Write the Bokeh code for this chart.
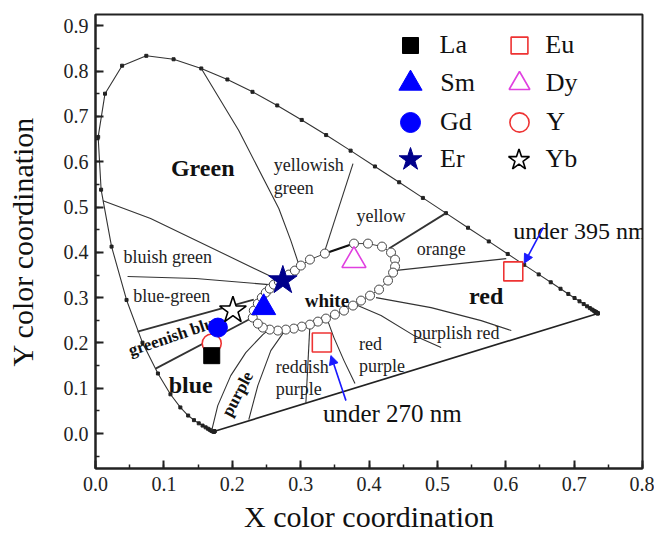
from bokeh.plotting import figure
from bokeh.models import (ColumnDataSource, Legend, LegendItem, Label, Arrow, NormalHead,
                          SingleIntervalTicker, Range1d, PrintfTickFormatter)
from bokeh.core.properties import value
from bokeh.embed import file_html
from bokeh.resources import INLINE

# ---------------- data ----------------
# CIE 1931 spectral locus, 380-700 nm every 5 nm
cie_x = [0.1741, 0.1740, 0.1738, 0.1736, 0.1733, 0.1730, 0.1726, 0.1721, 0.1714, 0.1703,
         0.1689, 0.1669, 0.1644, 0.1611, 0.1566, 0.1510, 0.1440, 0.1355, 0.1241, 0.1096,
         0.0913, 0.0687, 0.0454, 0.0235, 0.0082, 0.0039, 0.0139, 0.0389, 0.0743, 0.1142,
         0.1547, 0.1929, 0.2296, 0.2658, 0.3016, 0.3373, 0.3731, 0.4087, 0.4441, 0.4788,
         0.5125, 0.5448, 0.5752, 0.6029, 0.6270, 0.6482, 0.6658, 0.6801, 0.6915, 0.7006,
         0.7079, 0.7140, 0.7190, 0.7230, 0.7260, 0.7283, 0.7300, 0.7311, 0.7320, 0.7327,
         0.7334, 0.7340, 0.7344, 0.7346, 0.7347]
cie_y = [0.0050, 0.0050, 0.0049, 0.0049, 0.0048, 0.0048, 0.0048, 0.0048, 0.0051, 0.0058,
         0.0069, 0.0086, 0.0109, 0.0138, 0.0177, 0.0227, 0.0297, 0.0399, 0.0578, 0.0868,
         0.1327, 0.2007, 0.2950, 0.4127, 0.5384, 0.6548, 0.7502, 0.8120, 0.8338, 0.8262,
         0.8059, 0.7816, 0.7543, 0.7243, 0.6923, 0.6589, 0.6245, 0.5896, 0.5547, 0.5202,
         0.4866, 0.4544, 0.4242, 0.3965, 0.3725, 0.3514, 0.3340, 0.3197, 0.3083, 0.2993,
         0.2920, 0.2859, 0.2809, 0.2770, 0.2740, 0.2717, 0.2700, 0.2689, 0.2680, 0.2673,
         0.2666, 0.2660, 0.2656, 0.2654, 0.2653]

# white region outline (open circles)
white_x = [0.2300, 0.2315, 0.2374, 0.2432, 0.2491, 0.2549, 0.2608, 0.2681, 0.2755, 0.2828,
           0.2916, 0.3004, 0.3136, 0.3355, 0.3780, 0.3985, 0.4190, 0.4322, 0.4381, 0.4381,
           0.4352, 0.4278, 0.4147, 0.4015, 0.3883, 0.3766, 0.3634, 0.3502, 0.3370, 0.3253,
           0.3136, 0.3018, 0.2901, 0.2784, 0.2667, 0.2549, 0.2447, 0.2374, 0.2300]
white_y = [0.2561, 0.2715, 0.2870, 0.3002, 0.3113, 0.3201, 0.3289, 0.3355, 0.3422, 0.3510,
           0.3598, 0.3709, 0.3841, 0.3974, 0.4194, 0.4194, 0.4128, 0.3996, 0.3841, 0.3687,
           0.3554, 0.3377, 0.3179, 0.3046, 0.2936, 0.2826, 0.2715, 0.2627, 0.2539, 0.2472,
           0.2406, 0.2362, 0.2318, 0.2296, 0.2274, 0.2296, 0.2340, 0.2428, 0.2561]
thick_x = [0.3355, 0.3780]
thick_y = [0.3974, 0.4194]

# colour-name boundary lines
bound_xs = [
    [0.1547, 0.2095, 0.2681, 0.2857, 0.2974],          # green / yellowish green
    [0.0110, 0.0806, 0.2660],                          # green / bluish green
    [0.0469, 0.1465, 0.2535],                          # bluish green / blue-green
    [0.0615, 0.2315],                                  # blue-green / greenish blue
    [0.0879, 0.2300],                                  # greenish blue / blue
    [0.1700, 0.1788, 0.1978, 0.2198, 0.2447, 0.2535],  # blue / purple
    [0.2242, 0.2374, 0.2564, 0.2769],                  # purple / reddish purple
    [0.3077, 0.3136],                                  # reddish purple / red purple
    [0.3385, 0.3487, 0.3634, 0.3795],                  # red purple / purplish red
    [0.3766, 0.4176, 0.4659, 0.5055],                  # purplish red (inner)
    [0.4103, 0.4908, 0.5641, 0.6081],                  # purplish red / red
    [0.4366, 0.6007],                                  # red / orange
    [0.4293, 0.5125],                                  # orange / yellow
    [0.3341, 0.3766],                                  # yellow / yellowish green
]
bound_ys = [
    [0.8059, 0.6689, 0.4967, 0.4260, 0.3731],
    [0.5140, 0.4746, 0.3400],
    [0.3466, 0.3422, 0.3289],
    [0.2252, 0.2958],
    [0.1435, 0.2561],
    [0.0070, 0.0618, 0.1280, 0.1788, 0.2185, 0.2296],
    [0.0309, 0.1060, 0.1832, 0.2274],
    [0.0680, 0.2406],
    [0.2539, 0.2119, 0.1611, 0.1104],
    [0.2870, 0.2605, 0.2163, 0.1898],
    [0.3002, 0.2781, 0.2494, 0.2274],
    [0.3598, 0.3863],
    [0.4084, 0.4866],
    [0.3974, 0.5960],
]
bound_w = [1.1, 1.1, 1.1, 1.8, 1.8, 1.1, 1.1, 1.1, 1.1, 1.1, 1.1, 1.3, 1.8, 1.1]

# samples (CIE x, y)
la_x, la_y = [0.170], [0.172]
sm_x, sm_y = [0.246], [0.278]
gd_x, gd_y = [0.179], [0.234]
er_x, er_y = [0.274], [0.338]
eu_x, eu_y = [0.611, 0.331], [0.358, 0.201]
dy_x, dy_y = [0.378], [0.382]
yy_x, yy_y = [0.170], [0.199]
yb_x, yb_y = [0.201], [0.272]

series_names = ["La", "Sm", "Gd", "Er", "Eu", "Dy", "Y", "Yb"]

# region names
name_txt = ["yellowish", "green", "yellow", "orange", "bluish green", "blue-green",
            "reddish", "purple", "red", "purple", "purplish red"]
name_x = [0.2608, 0.2608, 0.4176, 0.5055, 0.1055, 0.1114, 0.2637, 0.2637, 0.3853, 0.3853, 0.5275]
name_y = [0.5938, 0.5430, 0.4812, 0.4084, 0.3907, 0.3046, 0.1479, 0.0993, 0.1987, 0.1501, 0.2230]
name_align = ["left", "left", "center", "center", "center", "center",
              "left", "left", "left", "left", "center"]

big_txt = ["Green", "blue", "red"]
big_x = [0.1568, 0.1392, 0.5714]
big_y = [0.5872, 0.1082, 0.3046]

white_txt = ["white"]
white_lx, white_ly = [0.3385], [0.2936]

rot_txt = ["greenish blue", "purple"]
rot_x = [0.1158, 0.2076]
rot_y = [0.2163, 0.0876]
rot_angle = [0.325, 1.08]

FONT = "Liberation Serif"

# ---------------- figure ----------------
p = figure(width=654, height=536, x_range=Range1d(0, 0.8), y_range=Range1d(-0.077, 0.925),
           output_backend="svg", toolbar_location=None,
           min_border_left=95, min_border_right=12, min_border_top=14, min_border_bottom=68)
p.grid.visible = False
p.background_fill_color = "white"
p.border_fill_color = "white"
p.outline_line_color = "#222222"
p.outline_line_width = 2

for ax in (p.xaxis[0], p.yaxis[0]):
    ax.ticker = SingleIntervalTicker(interval=0.1, num_minor_ticks=2)
    ax.formatter = PrintfTickFormatter(format="%.1f")
    ax.major_tick_in = 8
    ax.major_tick_out = 0
    ax.minor_tick_in = 4
    ax.minor_tick_out = 0
    ax.major_tick_line_width = 2
    ax.minor_tick_line_width = 1.5
    ax.axis_line_width = 2
    ax.axis_line_color = "#222222"
    ax.major_tick_line_color = "#222222"
    ax.minor_tick_line_color = "#222222"
    ax.major_label_text_font = FONT
    ax.major_label_text_font_size = "20px"
    ax.major_label_text_color = "#222222"
    ax.axis_label_text_font = FONT
    ax.axis_label_text_font_size = "30px"
    ax.axis_label_text_font_style = "normal"
    ax.axis_label_text_color = "#111111"

p.xaxis.axis_label = "X color coordination"
p.yaxis.axis_label = "Y color coordination"
p.xaxis.major_label_standoff = 8
p.xaxis.axis_label_standoff = 6
p.yaxis.major_label_standoff = 7
p.yaxis.axis_label_standoff = 22

# spectral locus + purple line
p.line(cie_x, cie_y, line_color="#333333", line_width=1.1)
p.line([cie_x[0], cie_x[-1]], [cie_y[0], cie_y[-1]], line_color="#222222", line_width=1.6)
p.scatter(cie_x, cie_y, marker="square", size=3, color="#222222")

# boundaries
p.multi_line(xs="xs", ys="ys", line_width="w", line_color="#333333",
             source=ColumnDataSource(dict(xs=bound_xs, ys=bound_ys, w=bound_w)))

# white region
p.line(white_x, white_y, line_color="#444444", line_width=1)
p.line(thick_x, thick_y, line_color="#111111", line_width=2.2)
p.scatter(white_x[:-1], white_y[:-1], marker="circle", size=9, fill_color="white",
          line_color="#444444", line_width=1)

# texts
p.text(x="x", y="y", text="t", text_align="a", text_baseline="middle",
       source=ColumnDataSource(dict(x=name_x, y=name_y, t=name_txt, a=name_align)),
       text_font=value(FONT), text_font_size="18px", text_color="#222222")
p.text(x=big_x, y=big_y, text=big_txt, text_align="center", text_baseline="middle",
       text_font=value(FONT), text_font_size="24px", text_font_style="bold", text_color="#111111")
p.text(x=white_lx, y=white_ly, text=white_txt, text_align="center", text_baseline="middle",
       text_font=value(FONT), text_font_size="19px", text_font_style="bold", text_color="#111111")
p.text(x=rot_x, y=rot_y, text=rot_txt, angle=rot_angle, text_align="center", text_baseline="middle",
       text_font=value(FONT), text_font_size="17px", text_font_style="bold", text_color="#111111")

# samples
r_y = p.scatter(yy_x, yy_y, marker="circle", size=19, fill_color="white", line_color="#EE3333", line_width=1.6)
r_la = p.scatter(la_x, la_y, marker="square", size=16, fill_color="black", line_color="black")
r_gd = p.scatter(gd_x, gd_y, marker="circle", size=19, fill_color="#0000FF", line_color="#0000FF")
r_yb = p.scatter(yb_x, yb_y, marker="star", size=28, fill_color="white", line_color="black", line_width=1.6)
r_sm = p.scatter(sm_x, sm_y, marker="triangle", size=24, fill_color="#0000FF", line_color="#0000FF")
r_er = p.scatter(er_x, er_y, marker="star", size=30, fill_color="#00008B", line_color="#00008B")
r_eu = p.scatter(eu_x, eu_y, marker="square", size=19, fill_color="white", line_color="#EE3333", line_width=1.6)
r_dy = p.scatter(dy_x, dy_y, marker="triangle", size=24, fill_color="white", line_color="#E040E0", line_width=1.6)

# legend: two columns of four entries; one small legend per entry so each
# marker keeps its own size (screen pixels: marker centre, marker size, label left)
renderers = [r_la, r_sm, r_gd, r_er, r_eu, r_dy, r_y, r_yb]
leg_cx = [409.5, 410, 410, 410, 519.5, 519, 519, 518]
leg_cy = [45, 83, 122, 159, 45, 83, 122, 159]
leg_size = [16, 23, 20, 24, 17, 21, 19, 22]
leg_lx = [440, 440, 440, 440, 546, 546, 546, 546]
FRAME_LEFT, FRAME_BOTTOM = 95, 468
for r, name, cx, cy, sz, lx in zip(renderers, series_names, leg_cx, leg_cy, leg_size, leg_lx):
    w = max(sz / 0.4, 34)
    lg = Legend(items=[LegendItem(label=name, renderers=[r])],
                location=(cx - w / 2 - FRAME_LEFT, FRAME_BOTTOM - (cy + w / 2)))
    lg.border_line_color = None
    lg.background_fill_alpha = 0
    lg.padding = 0
    lg.margin = 0
    lg.glyph_width = int(round(w))
    lg.glyph_height = int(round(w))
    lg.label_standoff = max(0, int(round(lx - (cx + w / 2))))
    lg.label_text_font = FONT
    lg.label_text_font_size = "26px"
    lg.label_text_color = "#111111"
    p.add_layout(lg)

# annotations
p.add_layout(Label(x=0.611, y=0.448, text="under 395 nm", text_font=FONT, text_font_size="24px",
                   text_baseline="middle", text_color="#111111"))
p.add_layout(Label(x=0.3326, y=0.0442, text="under 270 nm", text_font=FONT, text_font_size="25px",
                   text_baseline="middle", text_color="#111111"))
p.add_layout(Arrow(end=NormalHead(size=9, fill_color="#1a1aff", line_color="#1a1aff"),
                   x_start=0.655, y_start=0.455, x_end=0.627, y_end=0.376,
                   line_color="#1a1aff", line_width=1.6))
p.add_layout(Arrow(end=NormalHead(size=9, fill_color="#1a1aff", line_color="#1a1aff"),
                   x_start=0.3663, y_start=0.0728, x_end=0.3443, y_end=0.1722,
                   line_color="#1a1aff", line_width=1.6))

open("out.html", "w").write(file_html(p, INLINE))
